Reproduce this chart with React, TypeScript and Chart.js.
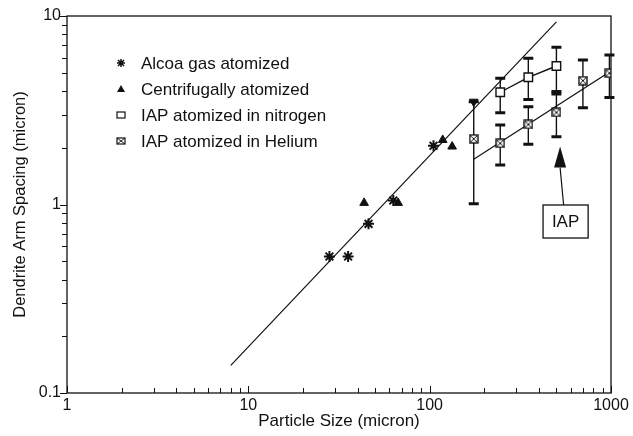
import React, { useEffect, useRef } from 'react';
import { Chart, registerables } from 'chart.js';

Chart.register(...registerables);

// ---- Data ----
const alcoaX = [28, 35.5, 46, 63, 105];
const alcoaY = [0.53, 0.53, 0.79, 1.05, 2.05];

const centriX = [43.5, 67, 118, 133];
const centriY = [1.02, 1.02, 2.2, 2.03];

const n2X = [245, 350, 500];
const n2Y = [3.94, 4.73, 5.43];
const n2Low = [3.07, 3.61, 3.86];
const n2High = [4.67, 5.97, 6.82];

const heX = [175, 245, 350, 500, 700, 980];
const heY = [2.23, 2.11, 2.66, 3.08, 4.54, 4.97];
const heLow = [1.01, 1.62, 2.09, 2.29, 3.26, 3.7];
const heHigh = [3.51, 2.64, 3.3, 3.98, 5.84, 6.21];

const steepFitX = [8, 500];
const steepFitY = [0.14, 9.3];

const heFitX = [175, 1000];
const heFitY = [1.74, 5.1];

const capMarkX = [175];
const capMarkY = [3.51];

const xTickValues = [1, 10, 100, 1000];
const yTickValues = [0.1, 1, 10];

const legendLabels = [
  'Alcoa gas atomized',
  'Centrifugally atomized',
  'IAP atomized in nitrogen',
  'IAP atomized in Helium',
];

const xTitle = 'Particle Size (micron)';
const yTitle = 'Dendrite Arm Spacing (micron)';

const iapText = 'IAP';
const iapBoxX = [422, 748];
const iapBoxY = [0.664, 0.994];
const arrowTipXY = [524, 2.03];
const arrowBaseXY = [524, 1.57];
const arrowTailXY = [548, 0.994];

const FONT = '"Liberation Sans", Arial, Helvetica, sans-serif';

const pts = (xs: number[], ys: number[]) => xs.map((x, i) => ({ x, y: ys[i] }));

function makeBoxX(size: number): HTMLCanvasElement {
  const c = document.createElement('canvas');
  c.width = size;
  c.height = size;
  const g = c.getContext('2d')!;
  g.fillStyle = '#fff';
  g.fillRect(1, 1, size - 2, size - 2);
  g.strokeStyle = '#111';
  g.lineWidth = 1.4;
  g.strokeRect(1, 1, size - 2, size - 2);
  g.lineWidth = 1;
  g.beginPath();
  g.moveTo(2, 2);
  g.lineTo(size - 2, size - 2);
  g.moveTo(size - 2, 2);
  g.lineTo(2, size - 2);
  g.stroke();
  return c;
}

const errorBarPlugin = {
  id: 'errorBars',
  beforeDatasetsDraw(chart: any) {
    const { ctx, scales } = chart;
    const xs = scales.x;
    const ys = scales.y;
    ctx.save();
    ctx.strokeStyle = '#111';
    const draw = (xv: number[], lo: number[], hi: number[]) => {
      for (let i = 0; i < xv.length; i++) {
        const px = xs.getPixelForValue(xv[i]);
        const pl = ys.getPixelForValue(lo[i]);
        const ph = ys.getPixelForValue(hi[i]);
        ctx.lineWidth = 1.4;
        ctx.beginPath();
        ctx.moveTo(px, pl);
        ctx.lineTo(px, ph);
        ctx.stroke();
        ctx.lineWidth = 3;
        ctx.beginPath();
        ctx.moveTo(px - 5, pl);
        ctx.lineTo(px + 5, pl);
        ctx.moveTo(px - 5, ph);
        ctx.lineTo(px + 5, ph);
        ctx.stroke();
      }
    };
    draw(n2X, n2Low, n2High);
    draw(heX, heLow, heHigh);
    ctx.restore();
  },
};

const frameTicksPlugin = {
  id: 'frameTicks',
  afterDraw(chart: any) {
    const { ctx, chartArea: a, scales } = chart;
    const xs = scales.x;
    const ys = scales.y;
    ctx.save();
    ctx.strokeStyle = '#111';
    ctx.lineWidth = 1.3;
    ctx.strokeRect(a.left, a.top, a.right - a.left, a.bottom - a.top);
    ctx.lineWidth = 1;
    ctx.beginPath();
    for (let d = 1; d < 1000; d *= 10) {
      for (let m = 1; m <= 10; m++) {
        const v = d * m;
        const px = Math.round(xs.getPixelForValue(v)) + 0.5;
        const len = m === 1 || m === 10 ? 7 : 5;
        ctx.moveTo(px, a.bottom);
        ctx.lineTo(px, a.bottom - len);
      }
    }
    for (let d = 0.1; d < 10; d *= 10) {
      for (let m = 1; m <= 10; m++) {
        const v = d * m;
        const py = Math.round(ys.getPixelForValue(v)) + 0.5;
        const len = m === 1 || m === 10 ? 7 : 5;
        ctx.moveTo(a.left, py);
        ctx.lineTo(a.left - len, py);
      }
    }
    ctx.stroke();
    ctx.restore();
  },
};

const legendPlugin = {
  id: 'customLegend',
  afterDraw(chart: any) {
    const { ctx } = chart;
    const mx = 121;
    const tx = 141;
    const rows = [63, 89, 115, 141];
    ctx.save();
    ctx.fillStyle = '#111';
    ctx.strokeStyle = '#111';
    ctx.font = `17px ${FONT}`;
    ctx.textBaseline = 'middle';
    ctx.textAlign = 'left';
    legendLabels.forEach((label, i) => {
      const y = rows[i];
      ctx.fillText(label, tx, y + 1);
      ctx.lineWidth = 1.5;
      if (i === 0) {
        const r = 4;
        ctx.beginPath();
        ctx.moveTo(mx - r, y);
        ctx.lineTo(mx + r, y);
        ctx.moveTo(mx, y - r);
        ctx.lineTo(mx, y + r);
        ctx.moveTo(mx - r * 0.75, y - r * 0.75);
        ctx.lineTo(mx + r * 0.75, y + r * 0.75);
        ctx.moveTo(mx + r * 0.75, y - r * 0.75);
        ctx.lineTo(mx - r * 0.75, y + r * 0.75);
        ctx.stroke();
      } else if (i === 1) {
        ctx.beginPath();
        ctx.moveTo(mx, y - 4);
        ctx.lineTo(mx + 4, y + 3);
        ctx.lineTo(mx - 4, y + 3);
        ctx.closePath();
        ctx.fill();
      } else if (i === 2) {
        ctx.lineWidth = 1.2;
        ctx.strokeRect(mx - 4, y - 3, 8, 6);
      } else {
        ctx.lineWidth = 1.2;
        ctx.strokeRect(mx - 4, y - 3, 8, 6);
        ctx.lineWidth = 0.9;
        ctx.beginPath();
        ctx.moveTo(mx - 4, y - 3);
        ctx.lineTo(mx + 4, y + 3);
        ctx.moveTo(mx + 4, y - 3);
        ctx.lineTo(mx - 4, y + 3);
        ctx.stroke();
      }
    });
    ctx.restore();
  },
};

const annotationPlugin = {
  id: 'iapNote',
  afterDatasetsDraw(chart: any) {
    const { ctx, scales } = chart;
    const xs = scales.x;
    const ys = scales.y;
    const bx0 = xs.getPixelForValue(iapBoxX[0]);
    const bx1 = xs.getPixelForValue(iapBoxX[1]);
    const by0 = ys.getPixelForValue(iapBoxY[1]);
    const by1 = ys.getPixelForValue(iapBoxY[0]);
    ctx.save();
    ctx.strokeStyle = '#111';
    ctx.fillStyle = '#111';
    ctx.lineWidth = 1.3;
    ctx.strokeRect(bx0, by0, bx1 - bx0, by1 - by0);
    ctx.font = `17px ${FONT}`;
    ctx.textAlign = 'center';
    ctx.textBaseline = 'middle';
    ctx.fillText(iapText, (bx0 + bx1) / 2, (by0 + by1) / 2 + 1);
    const tipX = xs.getPixelForValue(arrowTipXY[0]);
    const tipY = ys.getPixelForValue(arrowTipXY[1]);
    const baseX = xs.getPixelForValue(arrowBaseXY[0]);
    const baseY = ys.getPixelForValue(arrowBaseXY[1]);
    const tailX = xs.getPixelForValue(arrowTailXY[0]);
    const tailY = ys.getPixelForValue(arrowTailXY[1]);
    ctx.lineWidth = 1.2;
    ctx.beginPath();
    ctx.moveTo(baseX, baseY);
    ctx.lineTo(tailX, tailY);
    ctx.stroke();
    ctx.beginPath();
    ctx.moveTo(tipX, tipY);
    ctx.lineTo(baseX + 6, baseY);
    ctx.lineTo(baseX - 6, baseY);
    ctx.closePath();
    ctx.fill();
    ctx.restore();
  },
};

export default function App() {
  const ref = useRef<HTMLCanvasElement | null>(null);

  useEffect(() => {
    document.body.style.margin = '0';
    const canvas = ref.current;
    if (!canvas) return;
    const boxX = makeBoxX(10);
    const black = '#111';

    const chart = new Chart(canvas, {
      type: 'scatter',
      data: {
        datasets: [
          {
            label: legendLabels[0],
            data: pts(alcoaX, alcoaY),
            pointStyle: 'star',
            pointRadius: 5.5,
            borderWidth: 2,
            borderColor: black,
            backgroundColor: black,
            showLine: false,
          },
          {
            label: legendLabels[1],
            data: pts(centriX, centriY),
            pointStyle: 'triangle',
            pointRadius: 5,
            borderWidth: 1,
            borderColor: black,
            backgroundColor: black,
            showLine: false,
          },
          {
            label: legendLabels[2],
            data: pts(n2X, n2Y),
            pointStyle: 'rect',
            pointRadius: 6,
            borderWidth: 1.4,
            borderColor: black,
            backgroundColor: '#fff',
            pointBackgroundColor: '#fff',
            showLine: true,
            borderCapStyle: 'butt',
          } as any,
          {
            label: legendLabels[3],
            data: pts(heX, heY),
            pointStyle: boxX,
            pointRadius: 5,
            borderColor: black,
            backgroundColor: '#fff',
            showLine: false,
          },
          {
            label: 'cap',
            data: pts(capMarkX, capMarkY),
            pointStyle: 'triangle',
            rotation: 180,
            pointRadius: 5,
            borderColor: black,
            backgroundColor: black,
            showLine: false,
          } as any,
          {
            label: 'fit1',
            data: pts(steepFitX, steepFitY),
            pointRadius: 0,
            borderColor: black,
            borderWidth: 1.2,
            showLine: true,
          },
          {
            label: 'fit2',
            data: pts(heFitX, heFitY),
            pointRadius: 0,
            borderColor: black,
            borderWidth: 1.2,
            showLine: true,
          },
        ],
      },
      options: {
        animation: false,
        responsive: false,
        devicePixelRatio: 1,
        layout: { padding: { top: 16, right: 22, left: 0, bottom: 0 } },
        plugins: {
          legend: { display: false },
          tooltip: { enabled: false },
        },
        scales: {
          x: {
            type: 'logarithmic',
            min: 1,
            max: 1000,
            afterBuildTicks: (s: any) => {
              s.ticks = xTickValues.map((v) => ({ value: v }));
            },
            afterFit: (s: any) => {
              s.height = 43;
            },
            grid: { display: false, drawTicks: false },
            border: { display: false },
            ticks: {
              autoSkip: false,
              maxRotation: 0,
              padding: 3,
              color: '#111',
              font: { family: FONT, size: 16 },
              callback: (v: any) => String(v),
            },
            title: {
              display: true,
              text: xTitle,
              color: '#111',
              font: { family: FONT, size: 17 },
              padding: { top: 0, bottom: 4 },
            },
          },
          y: {
            type: 'logarithmic',
            min: 0.1,
            max: 10,
            afterBuildTicks: (s: any) => {
              s.ticks = yTickValues.map((v) => ({ value: v }));
            },
            afterFit: (s: any) => {
              s.width = 67;
            },
            grid: { display: false, drawTicks: false },
            border: { display: false },
            ticks: {
              autoSkip: false,
              padding: 6,
              color: '#111',
              font: { family: FONT, size: 16 },
              callback: (v: any) => String(v),
            },
            title: {
              display: true,
              text: yTitle,
              color: '#111',
              font: { family: FONT, size: 16.5 },
              padding: { top: 11, bottom: 0 },
            },
          },
        },
      },
      plugins: [errorBarPlugin, annotationPlugin, frameTicksPlugin, legendPlugin],
    } as any);

    return () => chart.destroy();
  }, []);

  return <canvas ref={ref} width={633} height={436} style={{ display: 'block' }} />;
}
